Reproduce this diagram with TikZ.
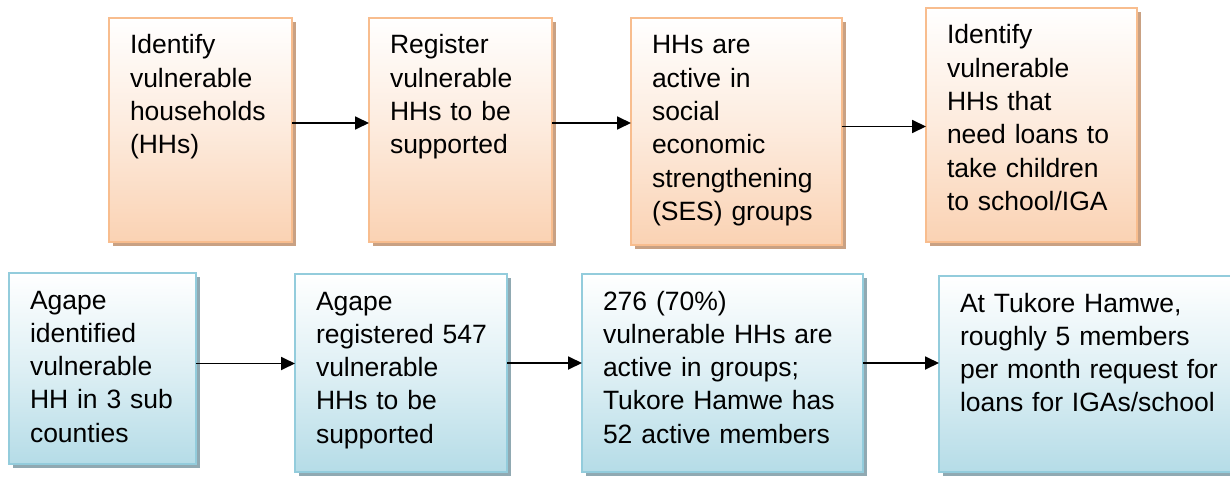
\documentclass[tikz,border=0pt]{standalone}
\usepackage{fontspec}
\setmainfont{Liberation Sans}
\usetikzlibrary{arrows.meta,calc}
\definecolor{ofill}{HTML}{FAD2B3}
\definecolor{oline}{HTML}{F8BD8E}
\definecolor{oboxsh}{HTML}{C9A183}
\definecolor{bfill}{HTML}{B5DCE7}
\definecolor{bline}{HTML}{93CCDC}
\definecolor{bboxsh}{HTML}{90A9B2}
\tikzset{
  stepbox/.style={rectangle, inner sep=0pt, outer sep=0pt, line width=2pt, anchor=north west},
  obox/.style={stepbox, draw=oline, top color=white, bottom color=ofill, middle color=ofill!45},
  bbox/.style={stepbox, draw=bline, top color=white, bottom color=bfill, middle color=bfill!45},
  txt/.style={anchor=base west, inner sep=0pt, outer sep=0pt, text width=320pt, align=left,
    font=\fontsize{26.5}{33.3}\selectfont},
  arr/.style={line width=1.8pt, -{Triangle[length=14pt,width=13pt]}}
}
\newcommand\mkbox[7]{%
  \fill[#2sh] ({#3+4},{#4+4}) rectangle ({#5+4},{#6+4});
  \node[#2, minimum width={(#5)-(#3)}, minimum height={(#6)-(#4)}] (#1) at (#3,#4) {};
  \node[txt] (#1t) at ({#3+21},{#4+36}) {#7};
}
\begin{document}
\begin{tikzpicture}[x=1pt,y=-1pt]
\useasboundingbox (0,0) rectangle (1230,476);
\fill[white] (0,0) rectangle (1230,476);
\clip (0,0) rectangle (1230,476);
\mkbox{b1}{obox}{109}{18}{292}{242}{Identify\\vulnerable\\households\\(HHs)}
\mkbox{b2}{obox}{369}{18}{552}{242}{Register\\vulnerable\\HHs to be\\supported}
\mkbox{b3}{obox}{631}{18}{842}{245}{HHs are\\active in\\social\\economic\\strengthening\\(SES) groups}
\mkbox{b4}{obox}{926}{8}{1137}{242}{Identify\\vulnerable\\HHs that\\need loans to\\take children\\to school/IGA}
\mkbox{b5}{bbox}{9}{273}{196}{464}{Agape\\identified\\vulnerable\\HH in 3 sub\\counties}
\mkbox{b6}{bbox}{295}{274}{507}{472}{Agape\\registered 547\\vulnerable\\HHs to be\\supported}
\mkbox{b7}{bbox}{582}{274}{863}{472}{276 (70\%)\\vulnerable HHs are\\active in groups;\\Tukore Hamwe has\\52 active members}
\mkbox{b8}{bbox}{939}{276}{1250}{472}{At Tukore Hamwe,\\roughly 5 members\\per month request for\\loans for IGAs/school}
\draw[arr] ([yshift=7pt]b1.east) -- ([yshift=7pt]b1.east -| b2.west);
\draw[arr] ([yshift=7pt]b2.east) -- ([yshift=7pt]b2.east -| b3.west);
\draw[arr] ([yshift=5pt]b3.east) -- ([yshift=5pt]b3.east -| b4.west);
\draw[arr] ([yshift=5pt]b5.east) -- ([yshift=5pt]b5.east -| b6.west);
\draw[arr] ([yshift=10pt]b6.east) -- ([yshift=10pt]b6.east -| b7.west);
\draw[arr] ([yshift=10pt]b7.east) -- ([yshift=10pt]b7.east -| b8.west);
\end{tikzpicture}
\end{document}
